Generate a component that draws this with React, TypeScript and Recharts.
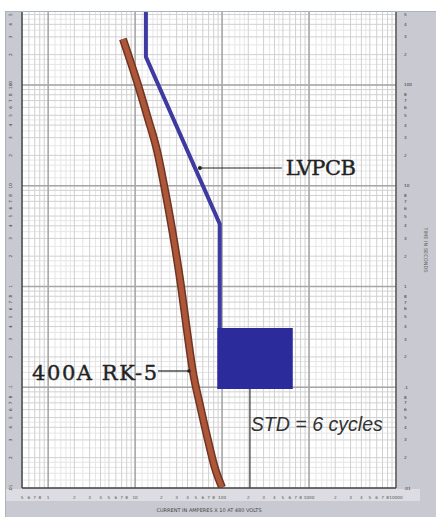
import React from "react";
import {
  LineChart,
  Line,
  XAxis,
  YAxis,
  CartesianGrid,
  ReferenceLine,
  ReferenceArea,
  ReferenceDot,
} from "recharts";

// 400A RK-5 fuse curve (amps x10, seconds)
const fuseAmps = [7.24, 10.8, 14, 17.8, 22.6, 27.9, 33.6, 39.4, 46.2, 55.6, 68.7, 82.7, 100];
const fuseSeconds = [286, 100, 47, 22.6, 8.1, 2.9, 1.03, 0.37, 0.142, 0.067, 0.03, 0.0158, 0.0101];

// LVPCB long time / short time curve
const breakerAmps = [13.3, 13.3, 94, 94];
const breakerSeconds = [530, 190, 4.17, 0.387];

// short time delay band (STD = 6 cycles)
const stdBandAmps = [88, 650];
const stdBandSeconds = [0.096, 0.387];
const stdMarkerAmps = 209;

// log paper
const ampDecades = [0.1, 1, 10, 100, 1000, 10000];
const secDecades = [0.01, 0.1, 1, 10, 100];
const labelSteps = [1, 2, 3, 4, 5, 6, 7, 8, 9];
const shownSteps = [1, 2, 3, 4, 5, 6, 7, 8];
const fineSteps = [1.2, 1.4, 1.6, 1.8, 2.5, 3.5, 4.5];
const ampDomain = [0.5, 10000];
const secDomain = [0.01, 530];

const clean = (v: number) => parseFloat(v.toPrecision(4));
const build = (decades: number[], steps: number[], domain: number[]) =>
  decades
    .flatMap((d) => steps.map((s) => clean(d * s)))
    .filter((v) => v >= domain[0] * 0.9999 && v <= domain[1] * 1.0001)
    .sort((a, b) => a - b);

const ampLabelTicks = build(ampDecades, shownSteps, ampDomain);
const ampMinor = build(ampDecades, labelSteps, ampDomain);
const ampFine = build(ampDecades, fineSteps, ampDomain);
const secLabelTicks = build(secDecades, shownSteps, secDomain);
const secMinor = build(secDecades, labelSteps, secDomain);
const secFine = build(secDecades, fineSteps, secDomain);
const ampMajor = ampDecades.filter((d) => d > ampDomain[0] && d < ampDomain[1]);
const secMajor = secDecades.filter((d) => d > secDomain[0] && d < secDomain[1]);

const fuseData = fuseAmps.map((a, i) => ({ amps: a, sec: fuseSeconds[i] }));
const breakerData = breakerAmps.map((a, i) => ({ amps: a, sec: breakerSeconds[i] }));

const fmt = (v: number) => {
  const exp = Math.floor(Math.log10(v) + 1e-9);
  const m = Math.round(v / Math.pow(10, exp));
  if (m !== 1) return String(m);
  const s = String(clean(v));
  return s.startsWith("0.") ? s.slice(1) : s;
};

const BottomTick = (p: any) => (
  <text x={p.x} y={p.y + 3} fontSize={4.2} fill="#555" textAnchor="middle" fontFamily="DejaVu Sans">
    {fmt(p.payload.value)}
  </text>
);

const LeftTick = (p: any) => (
  <text
    x={p.x - 2}
    y={p.y}
    fontSize={4.2}
    fill="#333"
    textAnchor="middle"
    fontFamily="DejaVu Sans"
    transform={`rotate(-90, ${p.x - 2}, ${p.y})`}
  >
    {fmt(p.payload.value)}
  </text>
);

const RightTick = (p: any) => (
  <text x={p.x} y={p.y + 1.5} fontSize={4.2} fill="#333" textAnchor="start" fontFamily="DejaVu Sans">
    {fmt(p.payload.value)}
  </text>
);

const typeText = (label: string, size: number, len: number) => (p: any) => (
  <text
    x={p.cx}
    y={p.cy}
    fontSize={size}
    fontFamily="DejaVu Serif"
    fill="#222"
    stroke="#222"
    strokeWidth={0.4}
    textLength={len}
    lengthAdjust="spacing"
  >
    {label}
  </text>
);

const App: React.FC = () => {
  return (
    <div style={{ position: "absolute", left: 0, top: 0, width: 436, height: 517, background: "#fff", overflow: "hidden" }}>
      <div
        style={{
          position: "absolute",
          left: 5,
          top: 11,
          right: 0,
          bottom: 0,
          background: "#c9c9d1",
          borderLeft: "1px solid #a9b4bf",
          borderTop: "1px solid #a9b4bf",
        }}
      />
      <div style={{ position: "absolute", left: 6, top: 489, width: 414, height: 12, background: "#dcdce2" }} />
      <div style={{ position: "absolute", left: 0, top: 0 }}>
        <LineChart width={436} height={517} margin={{ top: 12, right: 0, bottom: 0, left: 0 }}>
          <CartesianGrid
            fill="#fff"
            fillOpacity={1}
            stroke="#e6e6e6"
            strokeWidth={1}
            verticalValues={ampFine}
            horizontalValues={secFine}
          />
          <CartesianGrid stroke="#d0d0d0" strokeWidth={1} verticalValues={ampMinor} horizontalValues={secMinor} />
          <CartesianGrid stroke="#a6a6a6" strokeWidth={1.5} verticalValues={ampMajor} horizontalValues={secMajor} />
          <XAxis
            dataKey="amps"
            type="number"
            scale="log"
            domain={ampDomain}
            allowDataOverflow
            ticks={ampLabelTicks}
            interval={0}
            height={29}
            tickLine={false}
            axisLine={{ stroke: "#444", strokeWidth: 1.5 }}
            tick={(p: any) => <BottomTick {...p} />}
            label={{
              value: "CURRENT IN AMPERES X 10 AT 480 VOLTS",
              position: "insideBottom",
              offset: 5,
              fontSize: 5,
              fill: "#444",
              fontFamily: "DejaVu Sans",
            }}
          />
          <YAxis
            type="number"
            scale="log"
            domain={secDomain}
            allowDataOverflow
            ticks={secLabelTicks}
            interval={0}
            width={22}
            tickLine={false}
            axisLine={{ stroke: "#444", strokeWidth: 1.5 }}
            tick={(p: any) => <LeftTick {...p} />}
          />
          <YAxis
            yAxisId="right"
            orientation="right"
            type="number"
            scale="log"
            domain={secDomain}
            allowDataOverflow
            ticks={secLabelTicks}
            interval={0}
            width={40}
            tickLine={false}
            axisLine={{ stroke: "#555", strokeWidth: 1.5 }}
            tick={(p: any) => <RightTick {...p} />}
            label={{
              value: "TIME IN SECONDS",
              angle: 90,
              position: "center",
              dx: 10,
              fontSize: 5,
              fill: "#666",
              fontFamily: "DejaVu Sans",
            }}
          />

          <ReferenceArea
            x1={stdBandAmps[0]}
            x2={stdBandAmps[1]}
            y1={stdBandSeconds[0]}
            y2={stdBandSeconds[1]}
            fill="#2b2b9b"
            fillOpacity={1}
            stroke="none"
          />
          <ReferenceLine
            segment={[
              { x: stdMarkerAmps, y: stdBandSeconds[0] },
              { x: stdMarkerAmps, y: secDomain[0] },
            ]}
            stroke="#333"
            strokeWidth={1.2}
          />

          <Line
            data={breakerData}
            dataKey="sec"
            type="linear"
            stroke="#3e3aa2"
            strokeWidth={4}
            dot={false}
            isAnimationActive={false}
          />
          <Line
            data={fuseData}
            dataKey="sec"
            type="monotone"
            stroke="#6e3424"
            strokeWidth={8}
            dot={false}
            isAnimationActive={false}
          />
          <Line
            data={fuseData}
            dataKey="sec"
            type="monotone"
            stroke="#ad5638"
            strokeWidth={5}
            dot={false}
            isAnimationActive={false}
          />

          {/* LVPCB leader */}
          <ReferenceLine
            segment={[
              { x: 55.6, y: 15 },
              { x: 487, y: 15 },
            ]}
            stroke="#222"
            strokeWidth={1.2}
          />
          <ReferenceDot x={55.6} y={15} r={2} fill="#222" stroke="none" />
          <ReferenceDot x={541} y={12.8} r={0} shape={typeText("LVPCB", 21, 70)} />

          {/* 400A RK-5 leader */}
          <ReferenceLine
            segment={[
              { x: 18.3, y: 0.145 },
              { x: 41.6, y: 0.145 },
            ]}
            stroke="#222"
            strokeWidth={1.2}
          />
          <ReferenceDot x={41.6} y={0.145} r={1.8} fill="#222" stroke="none" />
          <ReferenceDot x={0.652} y={0.118} r={0} shape={typeText("400A RK-5", 21, 125)} />

          <ReferenceDot
            x={214}
            y={0.037}
            r={0}
            shape={(p: any) => (
              <text
                x={p.cx}
                y={p.cy}
                fontSize={21}
                fontStyle="italic"
                fontFamily="Liberation Sans"
                fill="#333"
                textLength={132}
                lengthAdjust="spacingAndGlyphs"
              >
                STD = 6 cycles
              </text>
            )}
          />
        </LineChart>
      </div>
    </div>
  );
};

export default App;
